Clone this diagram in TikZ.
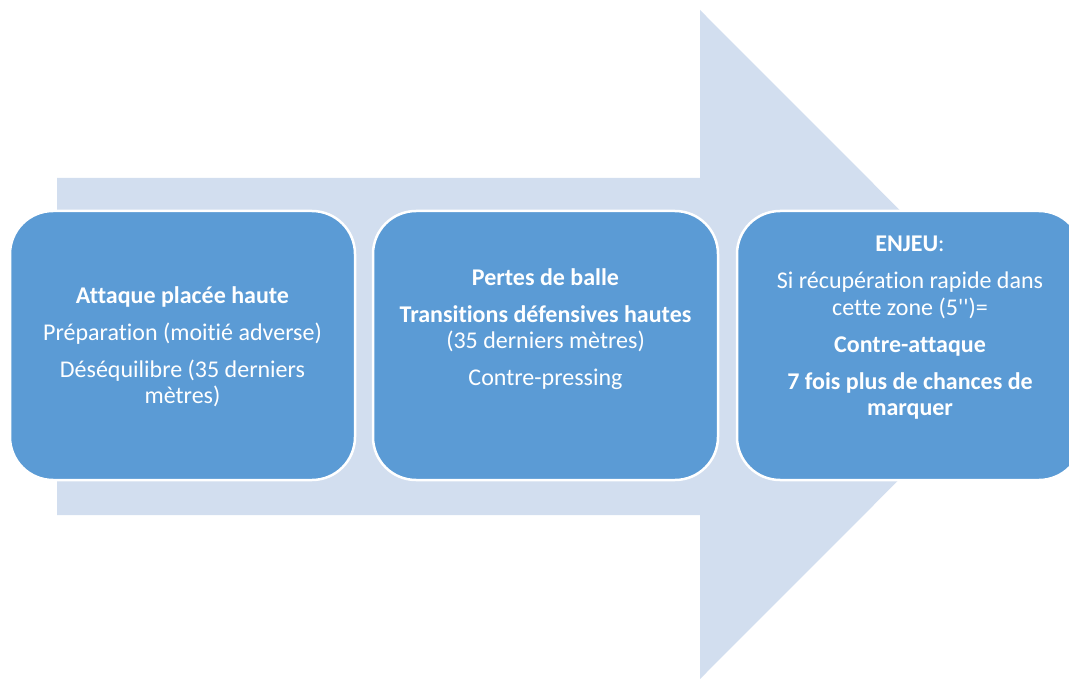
\documentclass[tikz,border=0pt]{standalone}
\usepackage{fontspec}
\setmainfont{Carlito}[Ligatures={TeXOff,CommonOff}]
\definecolor{arrowfill}{RGB}{210,222,239}
\definecolor{boxfill}{RGB}{91,155,213}
\begin{document}
\begin{tikzpicture}[x=1pt,y=-1pt,
  stage/.style={draw=white, line width=2.5pt, fill=boxfill, rounded corners=43pt,
    minimum width=345pt, minimum height=269pt, inner sep=0pt, outer sep=0pt},
  txt/.style={text=white, align=center, inner sep=0pt, anchor=base,
    font=\fontsize{24}{26.5}\selectfont}]
\useasboundingbox (0,0) rectangle (1069,679);
\clip (0,0) rectangle (1069,679);
\fill[arrowfill] (57,178) -- (700,178) -- (700,10) -- (1034,344.5) -- (700,679)
  -- (700,515) -- (57,515) -- cycle;
\node[stage] (b1) at (182.5,345.5) {};
\node[stage] (b2) at (545.5,345.5) {};
\node[stage] (b3) at (909.5,345.5) {};
\node[txt] (t1) at (182.5,403.5) {\textbf{Attaque placée haute}\\[10.5pt]
  Préparation (moitié adverse)\\[10.5pt]
  Déséquilibre (35 derniers\\ mètres)};
\node[txt] (t2) at (545.5,385.5) {\textbf{Pertes de balle}\\[10.5pt]
  \textbf{Transitions défensives hautes}\\
  (35 derniers mètres)\\[10.5pt]
  Contre-pressing};
\node[txt] (t3) at (910,415.5) {\textbf{ENJEU}:\\[10.5pt]
  Si récupération rapide dans\\ cette zone (5'')=\\[10.5pt]
  \textbf{Contre-attaque}\\[10.5pt]
  \textbf{7 fois plus de chances de}\\ \textbf{marquer}};
\end{tikzpicture}
\end{document}
